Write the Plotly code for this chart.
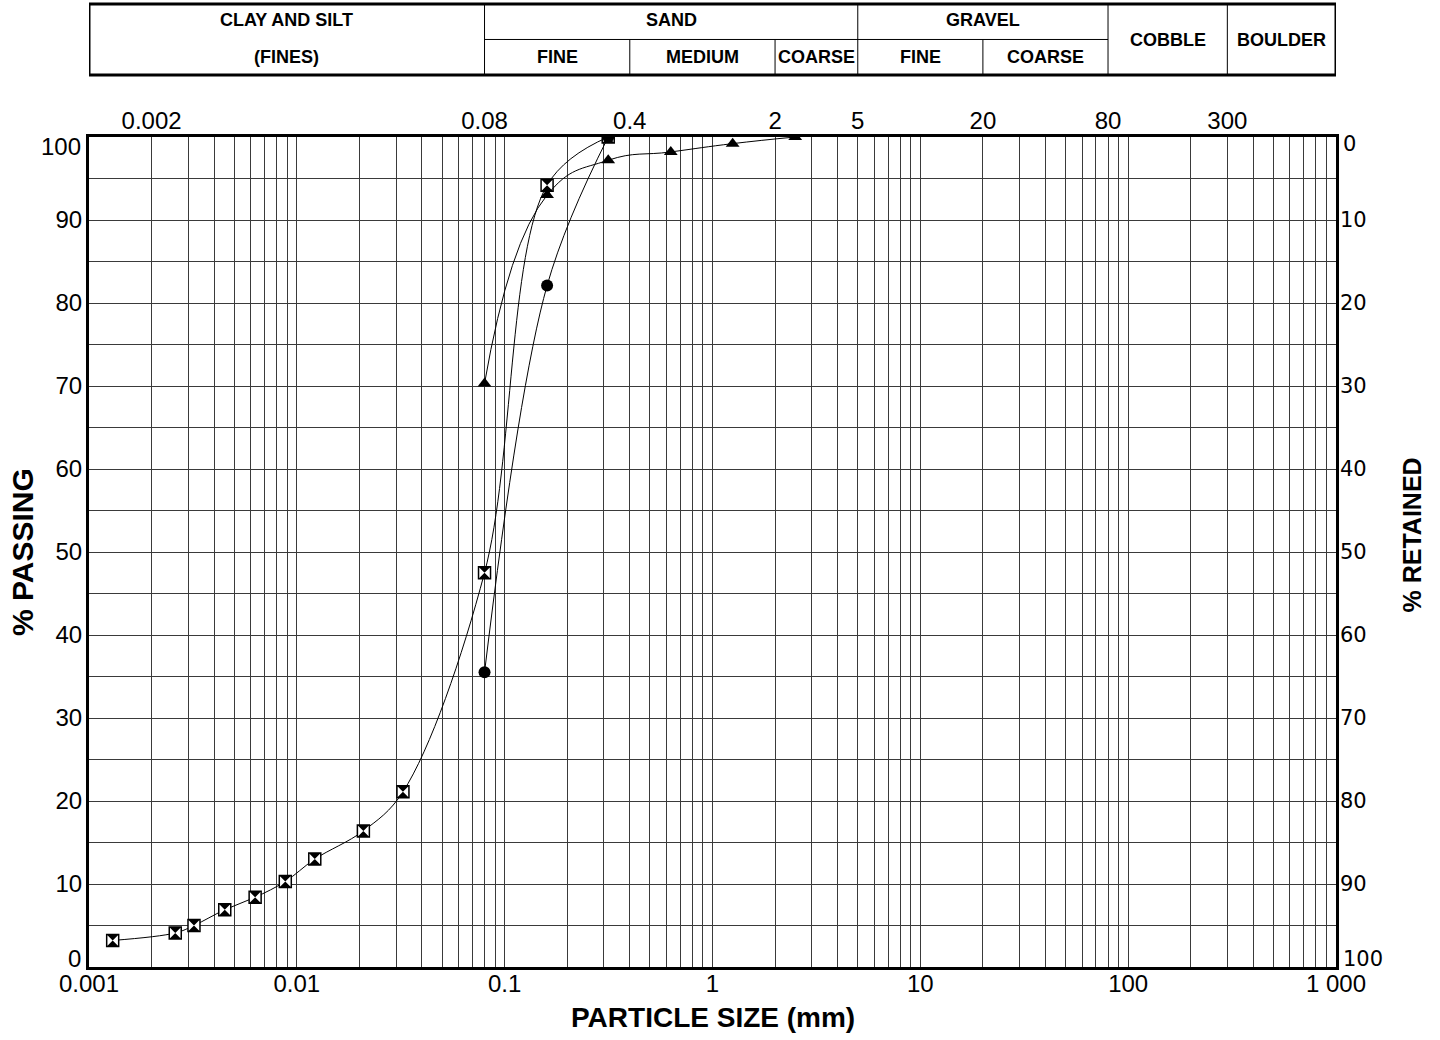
import math
import plotly.graph_objects as go

# Particle-size distribution: three samples, % passing vs particle size (mm)
# Sample with hydrometer fines (square / hourglass markers)
size_a = [0.0013, 0.0026, 0.0032, 0.0045, 0.0063, 0.0088, 0.0122, 0.0209, 0.0324, 0.08, 0.16, 0.315]
pass_a = [3.2, 4.1, 5.0, 6.9, 8.4, 10.3, 13.0, 16.4, 21.1, 47.5, 94.2, 100.0]

# Sieve-only sample (triangle markers)
size_b = [0.08, 0.16, 0.315, 0.63, 1.25, 2.5]
pass_b = [70.3, 93.0, 97.2, 98.2, 99.2, 100.0]

# Sieve-only sample (circle markers)
size_c = [0.08, 0.16, 0.315]
pass_c = [35.5, 82.1, 100.0]

# Axis labelling
decade_vals = [0.001, 0.01, 0.1, 1, 10, 100, 1000]
decade_text = ["0.001", "0.01", "0.1", "1", "10", "100", "1 000"]
top_vals = [0.002, 0.08, 0.4, 2, 5, 20, 80, 300]
top_text = ["0.002", "0.08", "0.4", "2", "5", "20", "80", "300"]
pct_major = [0, 10, 20, 30, 40, 50, 60, 70, 80, 90, 100]

# Soil classification header (boundaries in mm)
band_edges = [0.001, 0.08, 0.4, 2, 5, 20, 80, 300, 1000]
main_groups = [("CLAY AND SILT", 0.001, 0.08), ("SAND", 0.08, 5), ("GRAVEL", 5, 80)]
sub_groups = [("(FINES)", 0.001, 0.08), ("FINE", 0.08, 0.4), ("MEDIUM", 0.4, 2),
              ("COARSE", 2, 5), ("FINE", 5, 20), ("COARSE", 20, 80)]
full_groups = [("COBBLE", 80, 300), ("BOULDER", 300, 1000)]

ARIAL = "Liberation Sans, Arial, sans-serif"
WIDE = "DejaVu Sans, Verdana, sans-serif"

# log-paper grid: every 1..9 x 10^k
grid_vals = []
for k in range(-3, 3):
    for m in range(1, 10):
        grid_vals.append(round(m * 10 ** k, 6))
grid_vals.append(1000)
grid_text = []
for v in grid_vals:
    match = [t for dv, t in zip(decade_vals, decade_text) if abs(dv - v) < 1e-9]
    grid_text.append(match[0] if match else "")

# % grid every 5; end labels (0 / 100) are drawn separately, nudged inside the frame
pct_vals = list(range(0, 101, 5))
inner_major = pct_major[1:-1]
pct_text = [str(v) if v in inner_major else "" for v in pct_vals]

fig = go.Figure()

line_style = dict(color="black", width=1, shape="spline", smoothing=1.0)

# sample A: curve + white square, hourglass overlay
fig.add_trace(go.Scatter(x=size_a, y=pass_a, mode="lines+markers", line=line_style,
                         marker=dict(symbol="square", size=12, color="white",
                                     line=dict(color="black", width=1.5))))
fig.add_trace(go.Scatter(x=size_a, y=pass_a, mode="markers",
                         marker=dict(symbol="hourglass", size=12, color="black",
                                     line=dict(width=0))))
# sample B: triangles
fig.add_trace(go.Scatter(x=size_b, y=pass_b, mode="lines+markers",
                         line=dict(color="black", width=1, shape="spline", smoothing=1.3),
                         marker=dict(symbol="triangle-up", size=12, color="black",
                                     line=dict(width=0))))
# sample C: circles
fig.add_trace(go.Scatter(x=size_c, y=pass_c, mode="lines+markers", line=line_style,
                         marker=dict(symbol="circle", size=12, color="black",
                                     line=dict(width=0))))

# empty traces so the top (mm) and right (% retained) scales are drawn
fig.add_trace(go.Scatter(x=[], y=[], xaxis="x2", yaxis="y", hoverinfo="skip"))
fig.add_trace(go.Scatter(x=[], y=[], xaxis="x", yaxis="y2", hoverinfo="skip"))

grid_color = "#3a3a3a"
left_font = dict(family=ARIAL, size=24, color="black")
right_font = dict(family=WIDE, size=21, color="black")

fig.update_layout(
    width=1440, height=1040,
    margin=dict(l=89, r=104, t=137, b=73),
    paper_bgcolor="white", plot_bgcolor="white",
    showlegend=False,
    xaxis=dict(type="log", range=[-3, 3], tickmode="array", tickvals=grid_vals, ticktext=grid_text,
               showgrid=True, gridcolor=grid_color, gridwidth=1, zeroline=False,
               showline=True, linecolor="black", linewidth=3, mirror=True, ticks="",
               tickfont=left_font, ticklabelstandoff=-7),
    xaxis2=dict(type="log", range=[-3, 3], overlaying="x", side="top", anchor="y",
                tickmode="array", tickvals=top_vals, ticktext=top_text,
                showgrid=False, zeroline=False, showline=False, ticks="",
                tickfont=left_font, ticklabelstandoff=2),
    yaxis=dict(range=[0, 100], tickmode="array", tickvals=pct_vals, ticktext=pct_text,
               showgrid=True, gridcolor=grid_color, gridwidth=1, zeroline=False,
               showline=True, linecolor="black", linewidth=3, mirror=True, ticks="",
               tickfont=left_font, ticklabelstandoff=-1),
    yaxis2=dict(range=[100, 0], overlaying="y", side="right", anchor="x",
                tickmode="array", tickvals=inner_major, ticktext=[str(v) for v in inner_major],
                showgrid=False, zeroline=False, showline=False, ticks="",
                tickfont=right_font, ticklabelstandoff=3),
)

# header table geometry (paper y above the plot area)
y_top, y_mid, y_bot = 1.1602, 1.1175, 1.0747
y_row1, y_row2 = 1.141, 1.0964

shapes = [dict(type="rect", xref="x", yref="paper", x0=band_edges[0], x1=band_edges[-1],
               y0=y_bot, y1=y_top, line=dict(color="black", width=3))]
# full-height dividers
for edge in [0.08, 5, 80, 300]:
    shapes.append(dict(type="line", xref="x", yref="paper", x0=edge, x1=edge, y0=y_bot, y1=y_top,
                       line=dict(color="black", width=1)))
# half-height dividers (sub-classes)
for edge in [0.4, 2, 20]:
    shapes.append(dict(type="line", xref="x", yref="paper", x0=edge, x1=edge, y0=y_bot, y1=y_mid,
                       line=dict(color="black", width=1)))
shapes.append(dict(type="line", xref="x", yref="paper", x0=0.08, x1=80, y0=y_mid, y1=y_mid,
                   line=dict(color="black", width=1)))
fig.update_layout(shapes=shapes)

hdr_font = dict(family=ARIAL, size=18, color="black", weight="bold")


def centre(a, b):
    return (math.log10(a) + math.log10(b)) / 2


annotations = []
for text, a, b in main_groups:
    annotations.append(dict(text=text, x=centre(a, b), y=y_row1))
for text, a, b in sub_groups:
    annotations.append(dict(text=text, x=centre(a, b), y=y_row2))
for text, a, b in full_groups:
    annotations.append(dict(text=text, x=centre(a, b), y=(y_top + y_bot) / 2))
for ann in annotations:
    ann.update(xref="x", yref="paper", showarrow=False, xanchor="center", yanchor="middle",
               font=hdr_font)

# end labels of the % scales, kept inside the frame height
lo, hi = pct_major[0], pct_major[-1]
for val, shift in [(lo, 9), (hi, -9)]:
    annotations.append(dict(text=str(val), xref="paper", yref="y", x=0, y=val, xanchor="right",
                            yanchor="middle", xshift=-6, yshift=shift, showarrow=False,
                            font=left_font))
for val, shift in [(lo, -7), (hi, 8)]:
    # right scale is reversed: retained = 100 - passing
    annotations.append(dict(text=str(val), xref="paper", yref="y", x=1, y=hi - val, xanchor="left",
                            yanchor="middle", xshift=5, yshift=shift, showarrow=False,
                            font=right_font))

# axis titles
annotations.append(dict(text="% PASSING", xref="paper", yref="paper", x=-0.0537, y=0.5,
                        textangle=-90, showarrow=False, xanchor="center", yanchor="middle",
                        font=dict(family=ARIAL, size=30, color="black", weight="bold")))
annotations.append(dict(text="% RETAINED", xref="paper", yref="paper", x=1.061, y=0.52,
                        textangle=-90, showarrow=False, xanchor="center", yanchor="middle",
                        font=dict(family=ARIAL, size=25, color="black", weight="bold")))
annotations.append(dict(text="PARTICLE SIZE (mm)", xref="paper", yref="paper", x=0.5, y=-0.0614,
                        showarrow=False, xanchor="center", yanchor="middle",
                        font=dict(family=ARIAL, size=28, color="black", weight="bold")))
fig.update_layout(annotations=annotations)

fig.write_html("out.html")
